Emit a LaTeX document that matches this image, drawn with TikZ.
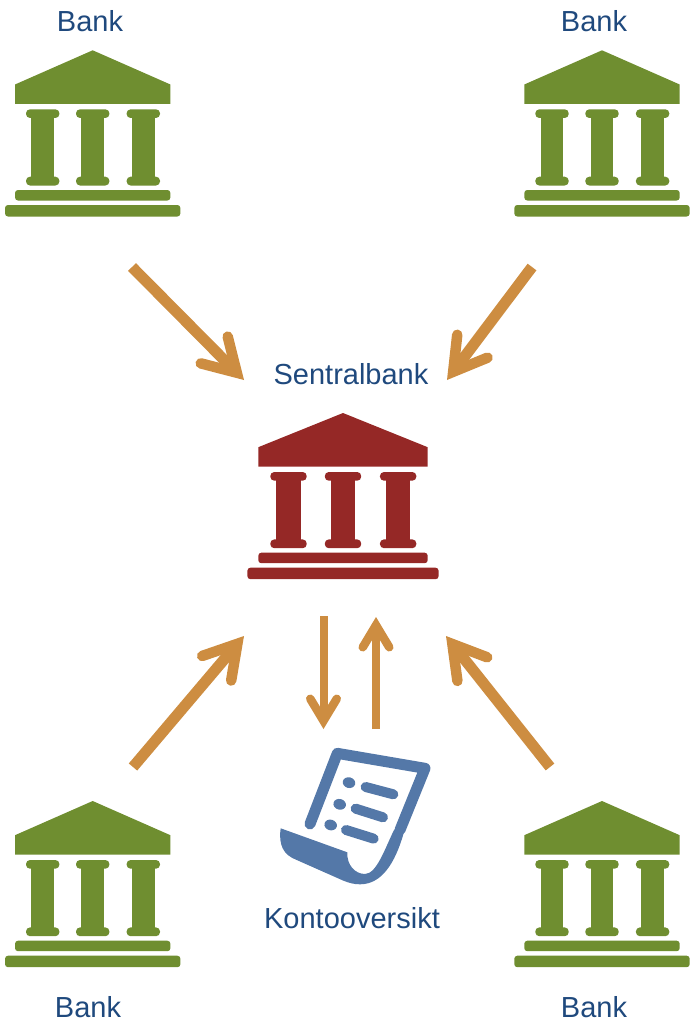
\documentclass[tikz,border=0pt]{standalone}
\usepackage{fontspec}
\setmainfont{Liberation Sans}
\usetikzlibrary{arrows.meta}
\definecolor{bankgreen}{HTML}{6F8E30}
\definecolor{bankred}{HTML}{952826}
\definecolor{flow}{HTML}{CD8D41}
\definecolor{docblue}{HTML}{5478A8}
\definecolor{labelblue}{HTML}{1F497D}
\tikzset{
  x=1pt,y=-1pt,
  lbl/.style={text=labelblue,font=\fontsize{29}{32}\selectfont,inner sep=0pt},
  flowbig/.style={draw=flow,line width=11pt,-{Straight Barb[length=32pt,width=38pt,line width=10.5pt,line cap=round,line join=miter]}},
  flowsmall/.style={draw=flow,line width=8pt,-{Straight Barb[length=22pt,width=26.5pt,line width=8.5pt,line cap=round,line join=miter]}},
  pics/bankicon/.style={code={
    \fill[#1] (0,0) -- (77.7,34.2) -- (77.7,53.7) -- (-77.7,53.7) -- (-77.7,34.2) -- cycle;
    \foreach \c in {-50,0,50.6}{
      \fill[#1] (\c-11.3,60) rectangle (\c+11.3,134);
      \fill[#1,rounded corners=4pt] (\c-16.7,59) rectangle (\c+16.7,67.7);
      \fill[#1,rounded corners=4pt] (\c-16.7,126.4) rectangle (\c+16.7,135.2);
    }
    \fill[#1,rounded corners=3pt] (-77.7,139.7) rectangle (77.7,150.2);
    \fill[#1,rounded corners=3pt] (-87.7,154.7) rectangle (87.7,166.2);
  }}
}
\begin{document}
\begin{tikzpicture}
\useasboundingbox (0,0) rectangle (692,1022);
\pic (bankTL) at (92.7,50.3) {bankicon=bankgreen};
\pic (bankTR) at (602,50.3) {bankicon=bankgreen};
\pic (bankBL) at (92.7,801) {bankicon=bankgreen};
\pic (bankBR) at (602,801) {bankicon=bankgreen};
\pic[xscale=1.09] (central) at (343,413) {bankicon=bankred};
\node[lbl] (lTL) at (90,21) {Bank};
\node[lbl] (lTR) at (594,21) {Bank};
\node[lbl] (lBL) at (88,1007.5) {Bank};
\node[lbl] (lBR) at (594,1007.5) {Bank};
\node[lbl] (lC) at (351,374) {Sentralbank};
\node[lbl] (lK) at (352,918) {Kontooversikt};
\coordinate (a1s) at (132,267); \coordinate (a1e) at (244,380);
\coordinate (a2s) at (532,267); \coordinate (a2e) at (447,380);
\coordinate (a3s) at (133,767); \coordinate (a3e) at (244,636);
\coordinate (a4s) at (550,767); \coordinate (a4e) at (446,636);
\coordinate (a5s) at (323.5,616); \coordinate (a5e) at (323.5,729);
\coordinate (a6s) at (376,729); \coordinate (a6e) at (376,617);
\draw[flowbig] (a1s) -- (a1e);
\draw[flowbig] (a2s) -- (a2e);
\draw[flowbig] (a3s) -- (a3e);
\draw[flowbig] (a4s) -- (a4e);
\draw[flowsmall] (a5s) -- (a5e);
\draw[flowsmall] (a6s) -- (a6e);
\begin{scope}[shift={(260,600)},x=0.3333pt,y=-0.3333pt]
  \draw[docblue,line width=11pt,line cap=round,line join=round]
    (150,672) -- (232,460) -- (495,505) -- (420,690);
  \fill[docblue] (62,685) -- (262,757)
    .. controls (260,795) and (285,822) .. (315,822)
    .. controls (350,822) and (375,745) .. (403,688)
    -- (431,700) .. controls (405,790) and (365,853) .. (300,853)
    .. controls (280,853) and (265,848) .. (250,842)
    -- (110,780) .. controls (70,765) and (55,735) .. (62,685) -- cycle;
  \fill[docblue,rotate around={-15:(267,548)}] (267,548) ellipse (19 and 16);
  \fill[docblue,rotate around={-15:(239,613)}] (239,613) ellipse (19 and 16);
  \fill[docblue,rotate around={-15:(212,675)}] (212,675) ellipse (19 and 16);
  \draw[docblue,line width=10pt,line cap=round] (317,561) -- (400,583);
  \draw[docblue,line width=10pt,line cap=round] (287,626) -- (369,652);
  \draw[docblue,line width=10pt,line cap=round] (258,690) -- (341,716);
\end{scope}
\end{tikzpicture}
\end{document}
